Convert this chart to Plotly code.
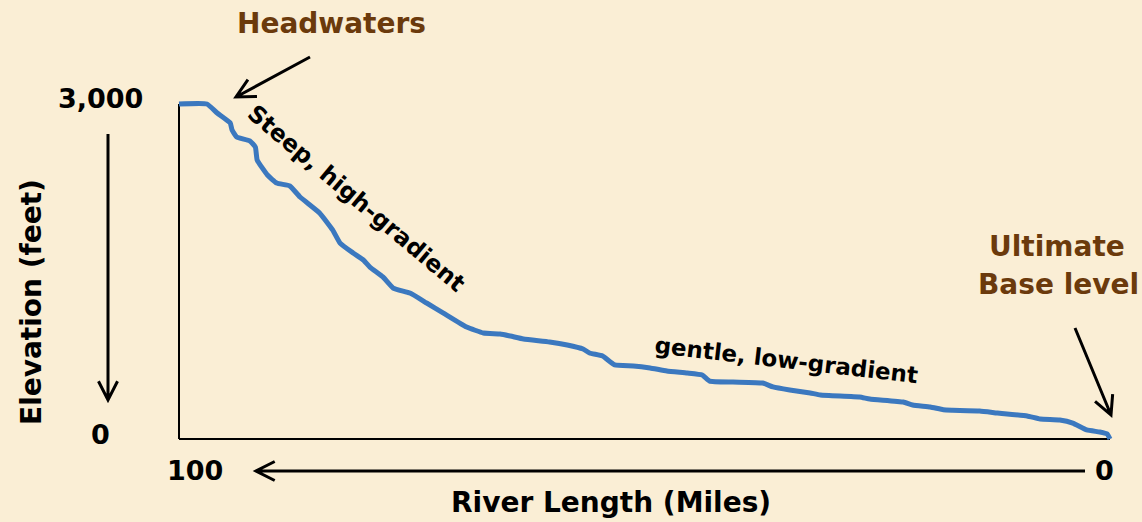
import math
import plotly.graph_objects as go

# ---------------- data ----------------
river_miles = [100, 97.0, 95.9, 94.5, 94.3, 93.8, 92.4, 91.8, 91.6, 90.5,
               89.5, 88.1, 87.0, 84.9, 83.5, 82.7, 81.3, 80.2, 79.5, 78.1,
               77.0, 75.2, 73.4, 71.6, 69.1, 67.3, 65.5, 64.4, 63.0, 60.2,
               58.3, 56.6, 55.9, 54.5, 53.2, 51.2, 49.4, 47.6, 45.4, 43.8,
               43.0, 40.5, 37.3, 36.2, 34.4, 32.2, 31.1, 26.9, 25.8, 22.2,
               21.2, 19.3, 17.9, 16.9, 14.0, 12.1, 8.9, 7.5, 5.4, 4.0,
               2.5, 1.1, 0.3, 0]
elevation_ft = [3000, 3000, 2919, 2830, 2767, 2704, 2669, 2615, 2498, 2364,
                2292, 2266, 2167, 2024, 1872, 1755, 1666, 1603, 1540, 1451,
                1352, 1307, 1218, 1128, 1003, 949, 940, 922, 896, 869,
                842, 806, 770, 743, 663, 654, 636, 609, 591, 573,
                519, 510, 501, 466, 439, 412, 394, 376, 358, 331,
                304, 287, 262, 258, 251, 233, 206, 179, 170, 143,
                81, 63, 45, 0]

y_tick_vals = [3000, 0]
y_tick_text = ["3,000", "0"]
x_tick_vals = [100, 0]
x_tick_text = ["100", "0"]

x_title = "River Length (Miles)"
y_title = "Elevation (feet)"

# ---------------- styling / geometry ----------------
W, H = 1142, 522
BG = "#FAEED5"
BLUE = "#3B78BF"
BROWN = "#6B3A0C"
FONT = "DejaVu Sans"

# pixel anchors of the axes in the figure
X_LEFT_PX, X_RIGHT_PX = 179, 1110     # 100 miles, 0 miles
Y_TOP_PX, Y_BOT_PX = 104, 439         # 3000 ft, 0 ft
x_max, x_min = max(x_tick_vals), min(x_tick_vals)
y_max, y_min = max(y_tick_vals), min(y_tick_vals)
mi_per_px = (x_max - x_min) / (X_RIGHT_PX - X_LEFT_PX)
ft_per_px = (y_max - y_min) / (Y_BOT_PX - Y_TOP_PX)
x_range = [x_max + X_LEFT_PX * mi_per_px, x_min - (W - X_RIGHT_PX) * mi_per_px]
y_range = [y_min - (H - Y_BOT_PX) * ft_per_px, y_max + Y_TOP_PX * ft_per_px]


def px(x):
    return x / W


def py(y):
    return 1 - y / H


fig = go.Figure()
fig.add_trace(go.Scatter(
    x=river_miles, y=elevation_ft, mode="lines",
    line=dict(color=BLUE, width=5, shape="spline", smoothing=0.4),
    hoverinfo="skip", showlegend=False,
))

shapes = []
# axis lines (data coordinates)
shapes.append(dict(type="line", xref="x", yref="y", x0=x_max, y0=y_min, x1=x_max, y1=y_max,
                   line=dict(color="black", width=2), layer="below"))
shapes.append(dict(type="line", xref="x", yref="y", x0=x_max, y0=y_min, x1=x_min, y1=y_min,
                   line=dict(color="black", width=2), layer="below"))


def arrow(tail, tip, head=21, spread=27, width=3):
    tx, ty = tail
    hx, hy = tip
    ang = math.atan2(ty - hy, tx - hx)
    a1 = (hx + head * math.cos(ang + math.radians(spread)), hy + head * math.sin(ang + math.radians(spread)))
    a2 = (hx + head * math.cos(ang - math.radians(spread)), hy + head * math.sin(ang - math.radians(spread)))
    path = (f"M {px(tx)},{py(ty)} L {px(hx)},{py(hy)} "
            f"M {px(a1[0])},{py(a1[1])} L {px(hx)},{py(hy)} L {px(a2[0])},{py(a2[1])}")
    return dict(type="path", xref="paper", yref="paper", path=path,
                line=dict(color="black", width=width))


shapes.append(arrow((310, 57), (236, 97)))       # Headwaters
shapes.append(arrow((1075, 328), (1111, 415)))   # Ultimate base level
shapes.append(arrow((108, 134), (108, 400)))     # elevation arrow
shapes.append(arrow((1085, 471), (256, 471)))    # river length arrow

annotations = []


def label(text, x, y, size=28, color="black", angle=0):
    annotations.append(dict(
        text=f"<b>{text}</b>", x=px(x), y=py(y), xref="paper", yref="paper",
        xanchor="center", yanchor="middle", showarrow=False, textangle=angle,
        font=dict(family=FONT, size=size, color=color)))


# tick labels tied to the data axes
for v, t in zip(y_tick_vals, y_tick_text):
    annotations.append(dict(
        text=f"<b>{t}</b>", x=x_max, y=v, xref="x", yref="y",
        xanchor="center", yanchor="middle", showarrow=False,
        xshift=100 - X_LEFT_PX, yshift=6 if v == y_max else 5,
        font=dict(family=FONT, size=27, color="black")))
for v, t in zip(x_tick_vals, x_tick_text):
    annotations.append(dict(
        text=f"<b>{t}</b>", x=v, y=y_min, xref="x", yref="y",
        xanchor="center", yanchor="middle", showarrow=False,
        xshift=16 if v == x_max else -6, yshift=-31,
        font=dict(family=FONT, size=27, color="black")))

label(y_title, 31, 302, angle=-90)
label(x_title, 611, 502)
label("Headwaters", 331, 24, color=BROWN)
label("Ultimate", 1057, 246, color=BROWN)
label("Base level", 1058, 284, color=BROWN)
label("Steep, high-gradient", 356, 198, size=23.5, angle=40)
label("gentle, low-gradient", 786, 360, size=23, angle=6.6)

fig.update_layout(
    width=W, height=H,
    margin=dict(l=0, r=0, t=0, b=0),
    paper_bgcolor=BG, plot_bgcolor=BG,
    xaxis=dict(range=x_range, visible=False, fixedrange=True),
    yaxis=dict(range=y_range, visible=False, fixedrange=True),
    shapes=shapes, annotations=annotations,
    showlegend=False,
)

fig.write_html("out.html", config={"displayModeBar": False},
               post_script="document.body.style.margin='0';document.body.style.overflow='hidden';")
